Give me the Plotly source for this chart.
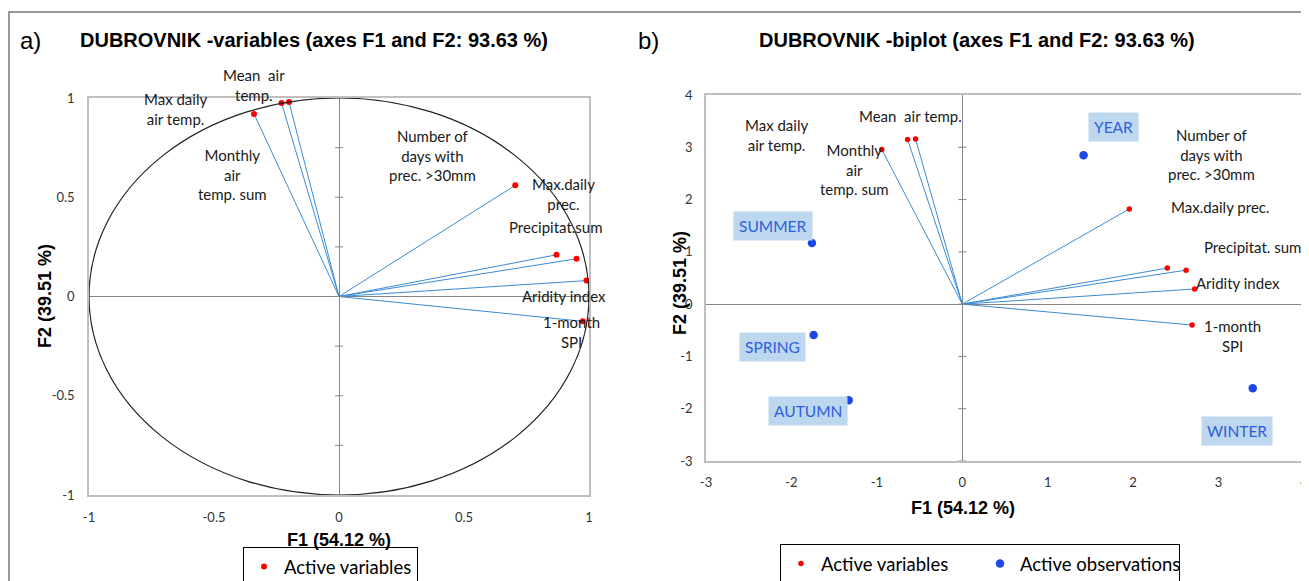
import numpy as np
import plotly.graph_objects as go

# page is 1309x581; the html body adds an 8px margin, so the figure is offset by 8px
PAGE_OFF = 8
W, H = 1309 - PAGE_OFF, 581 - PAGE_OFF

# ---------------- data ----------------
var_names = ["Max daily air temp.", "Mean air temp.", "Monthly air temp. sum",
             "Number of days with prec. >30mm", "Max.daily prec.", "Precipitat. sum",
             "Aridity index", "1-month SPI"]
# panel a) correlation circle coordinates
var_f1_corr = [-0.34, -0.23, -0.20, 0.705, 0.87, 0.95, 0.99, 0.975]
var_f2_corr = [0.92, 0.975, 0.98, 0.56, 0.21, 0.19, 0.08, -0.125]
# panel b) biplot coordinates
var_f1_bi = [-0.943, -0.64, -0.547, 1.955, 2.40, 2.62, 2.72, 2.69]
var_f2_bi = [2.96, 3.15, 3.16, 1.82, 0.69, 0.65, 0.29, -0.40]

obs_names = ["YEAR", "SUMMER", "SPRING", "AUTUMN", "WINTER"]
obs_f1 = [1.42, -1.76, -1.74, -1.33, 3.40]
obs_f2 = [2.85, 1.17, -0.59, -1.84, -1.61]

ticks_a = [-1, -0.5, 0, 0.5, 1]
ticks_b = [-3, -2, -1, 0, 1, 2, 3, 4]

# label display text (line breaks as in the figure)
labels_a = ["Max daily<br>air temp.", "Mean\u00a0 air<br>temp.", "Monthly<br>air<br>temp. sum",
            "Number of<br>days with<br>prec. >30mm", "Max.daily<br>prec.", "Precipitat.sum",
            "Aridity index", "1-month<br>SPI"]
labels_b = ["Max daily<br>air temp.", "Mean\u00a0 air temp.", "Monthly<br>air<br>temp. sum",
            "Number of<br>days with<br>prec. >30mm", "Max.daily prec.", "Precipitat. sum",
            "Aridity index", "1-month<br>SPI"]

# label pixel offsets (style / placement)
off_a = [(-79, 5), (-28, 18), (-57, -73), (-83, 30), (7, 61), (-21, 32), (-23, -15), (-11, -11)]
off_b = [(-105, 14), (3, 23), (-61, -31), (82, 54), (53, 61), (66, 23), (43, 6), (40, -11)]
off_obs = [(30, 28), (-39, 17), (-41, -12), (-41, -11), (-16, -43)]

# ---------------- styles ----------------
LINE_BLUE = "#3A8BD6"
RED = "#FF0000"
OBS_BLUE = "#1A47E6"
LBL_FONT = dict(family="Lato, Calibri, sans-serif", size=15, color="#1a1a1a")
TICK_FONT = dict(family="Lato, Calibri, sans-serif", size=13, color="#333333")
BOLD = "Liberation Sans, Arial, sans-serif"


def fx(p):  # page x pixel -> paper fraction
    return (p - PAGE_OFF) / W


def fy(p):  # page y pixel (from top) -> paper fraction
    return 1 - (p - PAGE_OFF) / H


def vec(xs, ys):
    vx, vy = [], []
    for a, b in zip(xs, ys):
        vx += [0, a, None]
        vy += [0, b, None]
    return vx, vy


fig = go.Figure()

# panel a
vx, vy = vec(var_f1_corr, var_f2_corr)
fig.add_trace(go.Scatter(x=vx, y=vy, mode="lines", line=dict(color=LINE_BLUE, width=1),
                         showlegend=False, hoverinfo="skip", xaxis="x", yaxis="y"))
fig.add_trace(go.Scatter(x=var_f1_corr, y=var_f2_corr, mode="markers", name="Active variables",
                         text=var_names, marker=dict(color=RED, size=6), xaxis="x", yaxis="y",
                         legend="legend"))

# panel b
vx, vy = vec(var_f1_bi, var_f2_bi)
fig.add_trace(go.Scatter(x=vx, y=vy, mode="lines", line=dict(color=LINE_BLUE, width=1),
                         showlegend=False, hoverinfo="skip", xaxis="x2", yaxis="y2"))
fig.add_trace(go.Scatter(x=var_f1_bi, y=var_f2_bi, mode="markers", name="Active variables",
                         text=var_names, marker=dict(color=RED, size=5.5), xaxis="x2", yaxis="y2",
                         legend="legend2"))
fig.add_trace(go.Scatter(x=obs_f1, y=obs_f2, mode="markers", name="Active observations",
                         text=obs_names, marker=dict(color=OBS_BLUE, size=8.5), xaxis="x2", yaxis="y2",
                         legend="legend2"))

# outer frame of the composite picture (decoration, on a hidden full-page pixel axis)
fig.add_trace(go.Scatter(x=[9, 9, 1320], y=[600, 12, 12], mode="lines",
                         line=dict(color="#999999", width=2), showlegend=False,
                         hoverinfo="skip", xaxis="x3", yaxis="y3"))

annotations = []
for i, t in enumerate(labels_a):
    annotations.append(dict(x=var_f1_corr[i], y=var_f2_corr[i], xref="x", yref="y", text=t,
                            showarrow=False, xshift=off_a[i][0], yshift=off_a[i][1], font=LBL_FONT))
for i, t in enumerate(labels_b):
    annotations.append(dict(x=var_f1_bi[i], y=var_f2_bi[i], xref="x2", yref="y2", text=t,
                            showarrow=False, xshift=off_b[i][0], yshift=off_b[i][1], font=LBL_FONT))
for i, t in enumerate(obs_names):
    annotations.append(dict(x=obs_f1[i], y=obs_f2[i], xref="x2", yref="y2", text=t,
                            showarrow=False, xshift=off_obs[i][0], yshift=off_obs[i][1],
                            bgcolor="#BDD7EE", borderpad=5,
                            font=dict(family="Lato, Calibri, sans-serif", size=15.5, color="#2E5FDB")))


def pa(x, y, text, size, family, bold=False, xanchor="left", angle=0):
    return dict(x=fx(x), y=fy(y), xref="paper", yref="paper", text=(f"<b>{text}</b>" if bold else text),
                showarrow=False, xanchor=xanchor, yanchor="middle", textangle=angle,
                font=dict(family=family, size=size, color="#000"))


annotations += [
    pa(18, 40, "a)", 24, BOLD),
    pa(78, 40, "DUBROVNIK -variables (axes F1 and F2: 93.63 %)", 20, BOLD, bold=True),
    pa(636, 40, "b)", 24, BOLD),
    pa(757, 40, "DUBROVNIK -biplot (axes F1 and F2: 93.63 %)", 20, BOLD, bold=True),
    pa(339, 540, "F1 (54.12 %)", 18, BOLD, bold=True, xanchor="center"),
    pa(45, 296, "F2 (39.51 %)", 18, BOLD, bold=True, xanchor="center", angle=-90),
    pa(963, 508, "F1 (54.12 %)", 18, BOLD, bold=True, xanchor="center"),
    pa(680, 283, "F2 (39.51 %)", 18, BOLD, bold=True, xanchor="center", angle=-90),
]

shapes = [
    # correlation circle
    dict(type="circle", xref="x", yref="y", x0=-1, x1=1, y0=-1, y1=1,
         line=dict(color="#222222", width=1.2), layer="above"),
]
# cross tick marks on the vertical zero axis
for v in np.arange(-0.75, 1.0, 0.25):
    shapes.append(dict(type="line", xref="x", yref="y", xsizemode="pixel", xanchor=0,
                       x0=-4, x1=4, y0=v, y1=v, line=dict(color="#868686", width=1)))
for v in range(-3, 4):
    shapes.append(dict(type="line", xref="x2", yref="y2", xsizemode="pixel", xanchor=0,
                       x0=-4, x1=4, y0=v, y1=v, line=dict(color="#868686", width=1)))


def axis(domain, rng, ticks, standoff):
    return dict(domain=domain, range=rng, tickvals=ticks, ticktext=[f"{t:g}" for t in ticks],
                showgrid=False, zeroline=True, zerolinecolor="#868686", zerolinewidth=1,
                showline=True, mirror=True, linecolor="#BFBFBF", linewidth=1.5,
                ticks="", tickfont=TICK_FONT, ticklabelstandoff=standoff, fixedrange=True,
                automargin=False, ticklabeloverflow="allow")


leg_common = dict(orientation="h", xanchor="left", yanchor="top", bordercolor="#000000",
                  borderwidth=1, bgcolor="white")

fig.update_layout(
    width=W, height=H, margin=dict(l=0, r=0, t=0, b=0, autoexpand=False),
    paper_bgcolor="white", plot_bgcolor="rgba(0,0,0,0)",
    xaxis=axis([fx(89), fx(589)], [-1, 1], ticks_a, 10) | dict(anchor="y"),
    yaxis=axis([fy(495), fy(98)], [-1, 1], ticks_a, 10) | dict(anchor="x"),
    xaxis2=axis([fx(706), fx(1304)], [-3, 4], ticks_b, 9) | dict(anchor="y2"),
    yaxis2=axis([fy(461), fy(95)], [-3, 4], ticks_b, 9) | dict(anchor="x2"),
    # hidden full-page pixel axes for the picture frame
    xaxis3=dict(domain=[0, 1], range=[PAGE_OFF, PAGE_OFF + W], visible=False, anchor="y3",
                fixedrange=True, showgrid=False, zeroline=False),
    yaxis3=dict(domain=[0, 1], range=[PAGE_OFF + H, PAGE_OFF], visible=False, anchor="x3",
                fixedrange=True, showgrid=False, zeroline=False),
    legend=dict(x=fx(243), y=fy(547), **leg_common,
                font=dict(family="Lato, Calibri, sans-serif", size=18.5, color="#000")),
    legend2=dict(x=fx(780), y=fy(544), entrywidth=154, **leg_common,
                 font=dict(family="Lato, Calibri, sans-serif", size=18.5, color="#000")),
    annotations=annotations, shapes=shapes, showlegend=True,
)

fig.write_html("out.html")
